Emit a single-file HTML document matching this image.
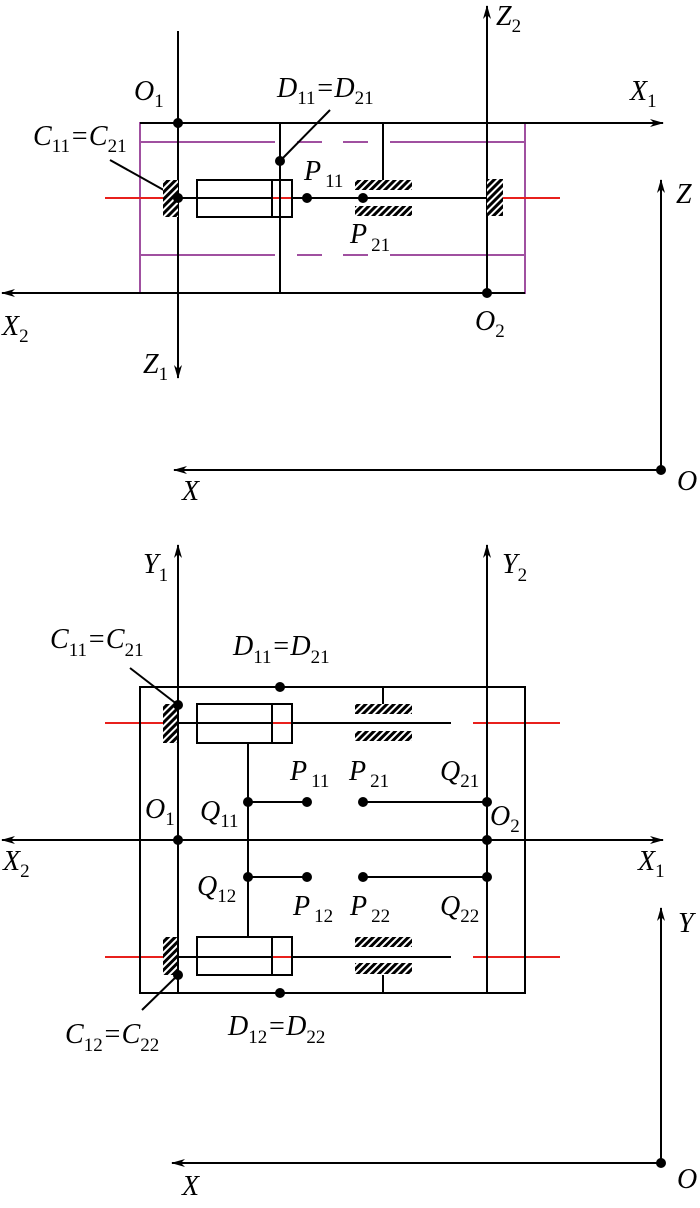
<!DOCTYPE html>
<html><head><meta charset="utf-8"><style>
html,body{margin:0;padding:0;background:#fff;}
svg{display:block;}
text{font-family:"Liberation Serif",serif;fill:#000;}
.m{font-style:italic;font-size:28px;}
.s{font-size:19px;font-style:normal;}
</style></head><body>
<svg width="700" height="1208" viewBox="0 0 700 1208" xmlns="http://www.w3.org/2000/svg">
<defs>
<pattern id="h" width="5" height="5" patternUnits="userSpaceOnUse" patternTransform="rotate(45)">
<rect width="5" height="5" fill="#fff"/><rect width="3" height="5" fill="#000"/>
</pattern>
<marker id="a" markerWidth="14" markerHeight="8" refX="13" refY="4" orient="auto" markerUnits="userSpaceOnUse">
<path d="M0,0 L14,4 L0,8 L4,4 Z" fill="#000"/>
</marker>
</defs>

<!-- ========== TOP FIGURE ========== -->
<g stroke="#a050a0" stroke-width="2" fill="none">
<rect x="140" y="123" width="385" height="170"/>
<path d="M140,142H275M297,142H322M343,142H368M390,142H525"/>
<path d="M140,255H275M297,255H322M343,255H368M390,255H525"/>
</g>
<g stroke="#e8201c" stroke-width="2"><path d="M105,198H560"/></g>
<g stroke="#000" stroke-width="2" fill="none">
<path d="M140,123H663" marker-end="url(#a)"/>
<path d="M525,293H2" marker-end="url(#a)"/>
<path d="M178,31V378" marker-end="url(#a)"/>
<path d="M487,293V6" marker-end="url(#a)"/>
<path d="M280,123V293"/>
<path d="M383,123V190"/>
<path d="M178,198H272M292,198H487"/>
<rect x="197" y="180" width="95" height="37" fill="none"/>
<path d="M272,180V217"/>
<path d="M110,160L178,198"/>
<path d="M330,110L280,161"/>
</g>
<g fill="url(#h)">
<rect x="163" y="180" width="15" height="37"/>
<rect x="487" y="179" width="16" height="37"/>
<rect x="355" y="180" width="57" height="10"/>
<rect x="355" y="206" width="57" height="10"/>
</g>
<g stroke="#000" stroke-width="2"><path d="M178,198H272M292,198H487"/></g>
<g fill="#000">
<circle cx="178" cy="123" r="5"/><circle cx="178" cy="198" r="5"/>
<circle cx="307" cy="198" r="5"/><circle cx="363" cy="198" r="5"/>
<circle cx="280" cy="161" r="5"/><circle cx="487" cy="293" r="5"/>
<circle cx="661" cy="470" r="5"/>
</g>
<g stroke="#000" stroke-width="2" fill="none">
<path d="M661,470V180" marker-end="url(#a)"/>
<path d="M661,470H174" marker-end="url(#a)"/>
</g>
<text x="134" y="100" class="m">O<tspan class="s" dy="7">1</tspan></text>
<text x="277" y="97" class="m">D<tspan class="s" dy="7">11</tspan><tspan dy="-7">=D</tspan><tspan class="s" dy="7">21</tspan></text>
<text x="630" y="100" class="m">X<tspan class="s" dy="7">1</tspan></text>
<text x="496" y="25" class="m">Z<tspan class="s" dy="7">2</tspan></text>
<text x="33" y="145" class="m">C<tspan class="s" dy="7">11</tspan><tspan dy="-7">=C</tspan><tspan class="s" dy="7">21</tspan></text>
<text x="304" y="180" class="m">P<tspan class="s" dy="7" dx="4">11</tspan></text>
<text x="350" y="243" class="m">P<tspan class="s" dy="8" dx="4">21</tspan></text>
<text x="2" y="335" class="m">X<tspan class="s" dy="7">2</tspan></text>
<text x="143" y="373" class="m">Z<tspan class="s" dy="7">1</tspan></text>
<text x="475" y="330" class="m">O<tspan class="s" dy="7">2</tspan></text>
<text x="676" y="203" class="m">Z</text>
<text x="182" y="500" class="m">X</text>
<text x="677" y="490" class="m">O</text>

<!-- ========== BOTTOM FIGURE ========== -->
<g stroke="#e8201c" stroke-width="2">
<path d="M105,723H180M270,723H294M473,723H560M105,957H180M270,957H294M473,957H560"/>
</g>
<g stroke="#000" stroke-width="2" fill="none">
<rect x="140" y="687" width="385" height="306"/>
<path d="M2,840H663" marker-end="url(#a)"/>
<path d="M663,840H2" marker-end="url(#a)"/>
<path d="M178,993V545" marker-end="url(#a)"/>
<path d="M487,993V545" marker-end="url(#a)"/>
<path d="M178,723H272M292,723H451M178,957H272M292,957H451"/>
<rect x="197" y="704" width="95" height="39"/>
<path d="M272,704V743"/>
<rect x="197" y="937" width="95" height="38"/>
<path d="M272,937V975"/>
<path d="M248,743V937"/>
<path d="M248,802H307M363,802H487M248,877H307M363,877H487"/>
<path d="M383,687V705M383,975V993"/>
<path d="M130,668L178,705"/>
<path d="M142,1010L178,975"/>
</g>
<g fill="url(#h)">
<rect x="163" y="704" width="15" height="39"/>
<rect x="163" y="937" width="15" height="38"/>
<rect x="355" y="704" width="57" height="10"/>
<rect x="355" y="731" width="57" height="10"/>
<rect x="355" y="937" width="57" height="10"/>
<rect x="355" y="963" width="57" height="11"/>
</g>
<g stroke="#000" stroke-width="2"><path d="M178,687V993M355,723H412M355,957H412"/></g>
<g fill="#000">
<circle cx="280" cy="687" r="5"/><circle cx="178" cy="705" r="5"/>
<circle cx="178" cy="840" r="5"/><circle cx="487" cy="840" r="5"/>
<circle cx="248" cy="802" r="5"/><circle cx="307" cy="802" r="5"/>
<circle cx="363" cy="802" r="5"/><circle cx="487" cy="802" r="5"/>
<circle cx="248" cy="877" r="5"/><circle cx="307" cy="877" r="5"/>
<circle cx="363" cy="877" r="5"/><circle cx="487" cy="877" r="5"/>
<circle cx="178" cy="975" r="5"/><circle cx="280" cy="993" r="5"/>
<circle cx="661" cy="1163" r="5"/>
</g>
<g stroke="#000" stroke-width="2" fill="none">
<path d="M661,1163V908" marker-end="url(#a)"/>
<path d="M661,1163H172" marker-end="url(#a)"/>
</g>
<text x="143" y="573" class="m">Y<tspan class="s" dy="8">1</tspan></text>
<text x="502" y="573" class="m">Y<tspan class="s" dy="8">2</tspan></text>
<text x="50" y="648" class="m">C<tspan class="s" dy="8">11</tspan><tspan dy="-8">=C</tspan><tspan class="s" dy="8">21</tspan></text>
<text x="233" y="655" class="m">D<tspan class="s" dy="8">11</tspan><tspan dy="-8">=D</tspan><tspan class="s" dy="8">21</tspan></text>
<text x="145" y="818" class="m">O<tspan class="s" dy="7">1</tspan></text>
<text x="200" y="820" class="m">Q<tspan class="s" dy="7">11</tspan></text>
<text x="290" y="780" class="m">P<tspan class="s" dy="7" dx="4">11</tspan></text>
<text x="349" y="780" class="m">P<tspan class="s" dy="7" dx="4">21</tspan></text>
<text x="440" y="780" class="m">Q<tspan class="s" dy="7">21</tspan></text>
<text x="490" y="825" class="m">O<tspan class="s" dy="7">2</tspan></text>
<text x="3" y="870" class="m">X<tspan class="s" dy="7">2</tspan></text>
<text x="638" y="870" class="m">X<tspan class="s" dy="7">1</tspan></text>
<text x="197" y="895" class="m">Q<tspan class="s" dy="7">12</tspan></text>
<text x="293" y="915" class="m">P<tspan class="s" dy="7" dx="4">12</tspan></text>
<text x="350" y="915" class="m">P<tspan class="s" dy="7" dx="4">22</tspan></text>
<text x="440" y="915" class="m">Q<tspan class="s" dy="7">22</tspan></text>
<text x="65" y="1043" class="m">C<tspan class="s" dy="8">12</tspan><tspan dy="-8">=C</tspan><tspan class="s" dy="8">22</tspan></text>
<text x="228" y="1035" class="m">D<tspan class="s" dy="8">12</tspan><tspan dy="-8">=D</tspan><tspan class="s" dy="8">22</tspan></text>
<text x="678" y="932" class="m">Y</text>
<text x="182" y="1195" class="m">X</text>
<text x="677" y="1188" class="m">O</text>
</svg>
</body></html>
